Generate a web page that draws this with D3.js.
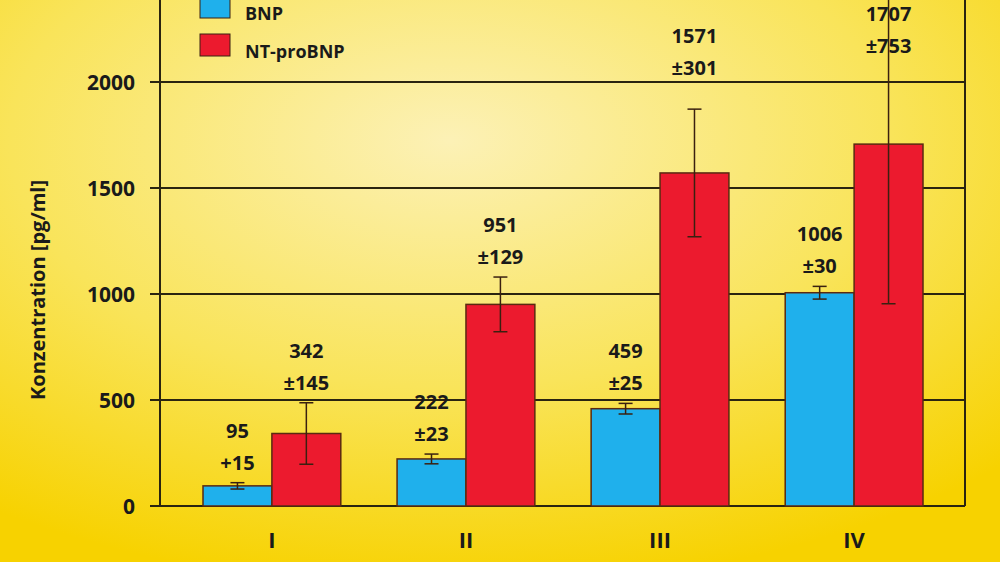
<!DOCTYPE html>
<html><head><meta charset="utf-8">
<script src="https://cdn.jsdelivr.net/npm/d3@7"></script>
<style>body{margin:0}svg{display:block}</style>
</head><body>
<script>
var groups = ['I', 'II', 'III', 'IV'];
var series = ['BNP', 'NT-proBNP'];
var bnp = [95, 222, 459, 1006];
var bnpErr = [15, 23, 25, 30];
var ntp = [342, 951, 1571, 1707];
var ntpErr = [145, 129, 301, 753];
var bnpLabels = [['95', '+15'], ['222', '±23'], ['459', '±25'], ['1006', '±30']];
var ntpLabels = [['342', '±145'], ['951', '±129'], ['1571', '±301'], ['1707', '±753']];
var yTicks = [0, 500, 1000, 1500, 2000];
var colors = ['#1fb0ec', '#ec1a2e'];

var W = 1000, H = 562;
var svg = d3.select('body').append('svg').attr('width', W).attr('height', H);

var defs = svg.append('defs');
var grad = defs.append('radialGradient').attr('id', 'bg')
    .attr('cx', '45%').attr('cy', '25%').attr('r', '80%');
grad.append('stop').attr('offset', '0%').attr('stop-color', '#fcf1b6');
grad.append('stop').attr('offset', '55%').attr('stop-color', '#f9e45a');
grad.append('stop').attr('offset', '100%').attr('stop-color', '#f7d200');
svg.append('rect').attr('width', W).attr('height', H).attr('fill', 'url(#bg)');

var x0 = d3.scaleBand().domain(groups).range([203, 923]).paddingInner(0.29).paddingOuter(0);
var x1 = d3.scaleBand().domain(series).range([0, x0.bandwidth()]).padding(0);
var y = d3.scaleLinear().domain([0, 2000]).range([506, 82]);

var font = 'Open Sans, DejaVu Sans, sans-serif';

// gridlines
svg.append('g').selectAll('line').data(yTicks).join('line')
    .attr('x1', 150).attr('x2', 965)
    .attr('y1', function(d) { return y(d); }).attr('y2', function(d) { return y(d); })
    .attr('stroke', '#2a2410').attr('stroke-width', 2);
svg.append('line').attr('x1', 160).attr('x2', 160).attr('y1', 0).attr('y2', 506)
    .attr('stroke', '#2a2410').attr('stroke-width', 2);
svg.append('line').attr('x1', 965).attr('x2', 965).attr('y1', 0).attr('y2', 506)
    .attr('stroke', '#2a2410').attr('stroke-width', 2);

svg.append('g').selectAll('text').data(yTicks).join('text')
    .attr('x', 135).attr('y', function(d) { return y(d) + 8; })
    .attr('text-anchor', 'end').attr('font-family', font).attr('font-weight', 'bold')
    .attr('font-size', 21).attr('fill', '#1a1a1a').text(function(d) { return d; });

svg.append('text').attr('transform', 'translate(45,290) rotate(-90)')
    .attr('text-anchor', 'middle').attr('font-family', font).attr('font-weight', 'bold')
    .attr('font-size', 20).attr('fill', '#1a1a1a').text('Konzentration [pg/ml]');

svg.append('g').selectAll('text').data(groups).join('text')
    .attr('x', function(d) { return x0(d) + x0.bandwidth() / 2; }).attr('y', 548)
    .attr('text-anchor', 'middle').attr('font-family', font).attr('font-weight', 'bold')
    .attr('font-size', 22).attr('fill', '#1a1a1a').text(function(d) { return d; });

function drawSeries(vals, errs, labels, s, ci) {
    var g = svg.append('g');
    var bx = function(i) { return x0(groups[i]) + x1(s); };
    var bw = x1.bandwidth();
    g.selectAll('rect').data(vals).join('rect')
        .attr('x', function(d, i) { return bx(i); })
        .attr('y', function(d) { return y(d); })
        .attr('width', bw).attr('height', function(d) { return y(0) - y(d); })
        .attr('fill', colors[ci]).attr('stroke', '#5a2a10').attr('stroke-width', 1.5);
    vals.forEach(function(v, i) {
        var cx = bx(i) + bw / 2;
        var top = Math.max(y(v + errs[i]), -5), bot = y(v - errs[i]);
        g.append('line').attr('x1', cx).attr('x2', cx).attr('y1', top).attr('y2', bot)
            .attr('stroke', '#3a2010').attr('stroke-width', 1.5);
        [top, bot].forEach(function(yy) {
            g.append('line').attr('x1', cx - 7).attr('x2', cx + 7).attr('y1', yy).attr('y2', yy)
                .attr('stroke', '#3a2010').attr('stroke-width', 1.5);
        });
        var ly = Math.min(y(v + errs[i]), y(v)) - 45;
        if (ci === 1 && i === 3) ly = 21;
        if (ci === 1 && i === 2) ly = 43;
        labels[i].forEach(function(t, k) {
            g.append('text').attr('x', cx).attr('y', ly + k * 32)
                .attr('text-anchor', 'middle').attr('font-family', font).attr('font-weight', 'bold')
                .attr('font-size', 20).attr('fill', '#1a1a1a').text(t);
        });
    });
}
drawSeries(bnp, bnpErr, bnpLabels, 'BNP', 0);
drawSeries(ntp, ntpErr, ntpLabels, 'NT-proBNP', 1);

// legend
var leg = svg.append('g');
series.forEach(function(s, i) {
    leg.append('rect').attr('x', 200).attr('y', -4 + i * 38).attr('width', 30).attr('height', 22)
        .attr('fill', colors[i]).attr('stroke', '#3a2010');
    leg.append('text').attr('x', 245).attr('y', 20 + i * 38).attr('font-family', font)
        .attr('font-weight', 'bold').attr('font-size', 18).attr('fill', '#1a1a1a').text(s);
});
</script>
</body></html>
